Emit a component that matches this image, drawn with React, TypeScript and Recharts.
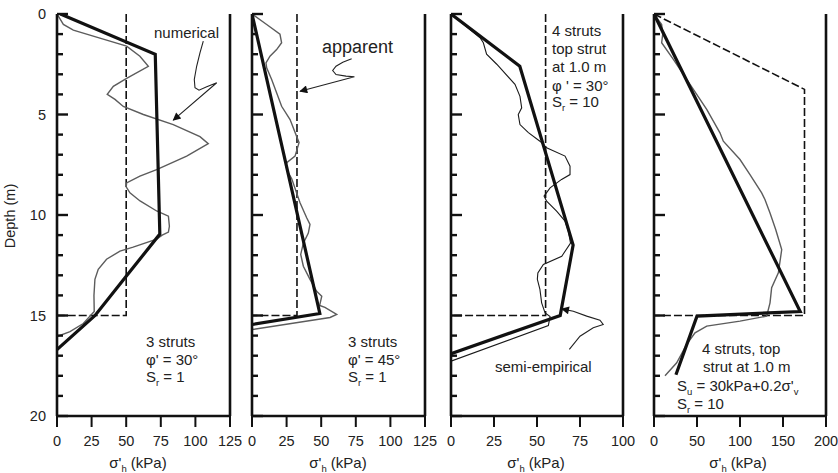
import React from 'react';
import { LineChart, Line, XAxis, YAxis } from 'recharts';

type Pt = { x: number; d: number };

const FONT = '"Liberation Sans", Arial, Helvetica, sans-serif';

// ---------- tick labels ----------
const depthTicks = [0, 1, 2, 3, 4, 5, 6, 7, 8, 9, 10, 11, 12, 13, 14, 15, 16, 17, 18, 19, 20];
const xTicks125 = [0, 25, 50, 75, 100, 125];
const xTicks100 = [0, 25, 50, 75, 100];
const xTicks200 = [0, 50, 100, 150, 200];

// ---------- panel 1: 3 struts, phi' = 30, Sr = 1 ----------
const p1Apparent: Pt[] = [{ x: 50, d: 0 }, { x: 50, d: 15 }, { x: 0, d: 15 }];
const p1Semi: Pt[] = [
  { x: 2.5, d: 0 }, { x: 71, d: 2 }, { x: 74.3, d: 10.95 }, { x: 50, d: 13.05 }, { x: 27.5, d: 15 }, { x: 0, d: 16.7 },
];
const p1Num: Pt[] = [
  { x: 0, d: 0 }, { x: 4.6, d: 0.52 }, { x: 11.8, d: 0.8 }, { x: 31, d: 1.2 }, { x: 50.3, d: 1.6 },
  { x: 59.9, d: 2.1 }, { x: 66, d: 2.6 }, { x: 50.3, d: 3.2 }, { x: 40.7, d: 3.6 }, { x: 36.3, d: 4.0 },
  { x: 41.9, d: 4.25 }, { x: 47.9, d: 4.6 }, { x: 62.4, d: 5.0 }, { x: 84, d: 5.5 }, { x: 103.3, d: 6.1 },
  { x: 109.3, d: 6.45 }, { x: 93.7, d: 7.07 }, { x: 72, d: 7.74 }, { x: 59.9, d: 8.07 }, { x: 50.3, d: 8.4 },
  { x: 50, d: 8.6 }, { x: 52.7, d: 8.9 }, { x: 60, d: 9.3 }, { x: 72, d: 9.8 }, { x: 80.5, d: 10.06 },
  { x: 81.2, d: 10.56 }, { x: 80.5, d: 10.85 }, { x: 76, d: 11.0 }, { x: 72, d: 11.2 }, { x: 55, d: 11.6 },
  { x: 45.5, d: 11.8 }, { x: 35.8, d: 12.2 }, { x: 29.8, d: 12.7 }, { x: 27.4, d: 13.2 }, { x: 26.7, d: 14.0 },
  { x: 26.9, d: 14.8 }, { x: 19, d: 15.4 }, { x: 9.4, d: 15.8 }, { x: 0, d: 16.05 },
];
const p1Arrow: Pt[] = [
  { x: 105.7, d: 1.35 }, { x: 103.3, d: 1.93 }, { x: 100.9, d: 2.6 }, { x: 99.2, d: 3.26 }, { x: 99.7, d: 3.67 },
  { x: 102.6, d: 3.79 }, { x: 108.2, d: 3.62 }, { x: 115.4, d: 3.42 }, { x: 84, d: 5.28 },
];

// ---------- panel 2: 3 struts, phi' = 45, Sr = 1 ----------
const p2Apparent: Pt[] = [{ x: 32.5, d: 0 }, { x: 32.5, d: 15 }, { x: 0, d: 15 }];
const p2Semi: Pt[] = [{ x: 0, d: 0 }, { x: 49, d: 14.9 }, { x: 0, d: 15.45 }];
const p2Num: Pt[] = [
  { x: 0, d: 0 }, { x: 10.6, d: 0.52 }, { x: 20.2, d: 1.0 }, { x: 21.4, d: 1.43 }, { x: 17.8, d: 1.77 },
  { x: 13, d: 2.1 }, { x: 10.1, d: 2.43 }, { x: 10.6, d: 2.68 }, { x: 14.2, d: 3.26 }, { x: 21.4, d: 4.59 },
  { x: 27.5, d: 5.25 }, { x: 34, d: 6.4 }, { x: 31.1, d: 7.07 }, { x: 25.1, d: 7.4 }, { x: 24.6, d: 7.57 },
  { x: 25.5, d: 7.8 }, { x: 28.7, d: 8.2 }, { x: 34.7, d: 9.39 }, { x: 39.5, d: 10.14 }, { x: 41.9, d: 10.47 },
  { x: 40.7, d: 10.9 }, { x: 37.1, d: 11.4 }, { x: 35.2, d: 11.96 }, { x: 37.1, d: 12.55 }, { x: 41.9, d: 13.2 },
  { x: 46.7, d: 13.8 }, { x: 50.4, d: 14.04 }, { x: 48.9, d: 14.5 }, { x: 52.7, d: 14.6 }, { x: 61.2, d: 14.95 },
  { x: 56.4, d: 15.1 }, { x: 0, d: 15.7 },
];
const p2Arrow: Pt[] = [
  { x: 72, d: 2.23 }, { x: 65.6, d: 2.4 }, { x: 60.7, d: 2.6 }, { x: 58.3, d: 2.81 }, { x: 60.7, d: 3.01 },
  { x: 67.9, d: 3.09 }, { x: 74, d: 3.12 }, { x: 34.7, d: 3.84 },
];

// ---------- panel 3: 4 struts, phi' = 30, Sr = 10 ----------
const p3Apparent: Pt[] = [{ x: 55, d: 0 }, { x: 55, d: 15 }, { x: 0, d: 15 }];
const p3Semi: Pt[] = [{ x: 0, d: 0 }, { x: 40, d: 2.6 }, { x: 71, d: 11.5 }, { x: 63.5, d: 15 }, { x: 0, d: 16.9 }];
const p3Num: Pt[] = [
  { x: 0, d: 0 }, { x: 16.9, d: 1.18 }, { x: 18.8, d: 1.43 }, { x: 20.7, d: 2.0 }, { x: 26.6, d: 2.5 },
  { x: 37.2, d: 3.5 }, { x: 40.1, d: 4.1 }, { x: 41.1, d: 4.67 }, { x: 39.1, d: 5.0 }, { x: 40.1, d: 5.5 },
  { x: 45, d: 5.9 }, { x: 51.7, d: 6.33 }, { x: 55.6, d: 6.66 }, { x: 66.3, d: 7.07 }, { x: 69.2, d: 7.57 },
  { x: 69.2, d: 7.99 }, { x: 64.3, d: 8.23 }, { x: 57.6, d: 8.65 }, { x: 54.1, d: 9.06 }, { x: 55.6, d: 9.31 },
  { x: 61.4, d: 9.81 }, { x: 66.3, d: 10.3 }, { x: 68.2, d: 10.8 }, { x: 69.5, d: 11.4 }, { x: 64.4, d: 12.05 },
  { x: 53.7, d: 12.46 }, { x: 50.5, d: 12.88 }, { x: 50.2, d: 13.2 }, { x: 51.7, d: 13.7 }, { x: 52.7, d: 14.37 },
  { x: 54.7, d: 14.87 }, { x: 57.6, d: 15.05 }, { x: 56.6, d: 15.5 }, { x: 0, d: 17.27 },
];
const p3Arrow: Pt[] = [
  { x: 68.8, d: 16.69 }, { x: 75, d: 16.03 }, { x: 82.7, d: 15.61 }, { x: 88.5, d: 15.45 }, { x: 86.6, d: 15.23 },
  { x: 78.9, d: 15.03 }, { x: 71.1, d: 14.79 }, { x: 64.4, d: 14.67 },
];

// ---------- panel 4: 4 struts, Su = 30kPa + 0.2 sigma'v, Sr = 10 ----------
const p4Apparent: Pt[] = [{ x: 0, d: 0 }, { x: 175, d: 3.75 }, { x: 175, d: 15 }, { x: 0, d: 15 }];
const p4Semi: Pt[] = [{ x: 0, d: 0 }, { x: 170, d: 14.8 }, { x: 50, d: 15.03 }, { x: 25.5, d: 17.95 }];
const p4Num: Pt[] = [
  { x: 0, d: 0 }, { x: 8.9, d: 0.52 }, { x: 10.1, d: 1.02 }, { x: 8.9, d: 1.43 }, { x: 22.5, d: 2.26 },
  { x: 41.9, d: 3.5 }, { x: 61.3, d: 4.75 }, { x: 76.7, d: 5.91 }, { x: 80.6, d: 6.33 }, { x: 100, d: 7.24 },
  { x: 111.6, d: 7.99 }, { x: 125.2, d: 8.9 }, { x: 129, d: 9.23 }, { x: 134.9, d: 9.9 }, { x: 141.5, d: 10.72 },
  { x: 148.5, d: 11.72 }, { x: 144.6, d: 12.88 }, { x: 136.8, d: 13.62 }, { x: 134.9, d: 14.37 }, { x: 131, d: 15.03 },
  { x: 100, d: 15.28 }, { x: 61.3, d: 15.53 }, { x: 47.7, d: 15.86 }, { x: 38, d: 16.44 }, { x: 26.4, d: 17.35 },
  { x: 12.8, d: 18.0 },
];

type Series = { data: Pt[]; kind: 'apparent' | 'semi' | 'num' | 'numDark' | 'arrow' };

const STYLE: Record<Series['kind'], any> = {
  apparent: { stroke: '#111', strokeWidth: 1.6, strokeDasharray: '8 3' },
  semi: { stroke: '#111', strokeWidth: 3.2 },
  num: { stroke: '#5c5c5c', strokeWidth: 1.4 },
  numDark: { stroke: '#1a1a1a', strokeWidth: 1.1 },
  arrow: { stroke: '#222', strokeWidth: 1.1, markerEnd: 'url(#arrowHead)' },
};

const TICK_MARGIN = 10;

const LeftTick = (props: any) => {
  const { x, y, payload, showLabel } = props;
  const edge = x + TICK_MARGIN;
  const major = payload.value % 5 === 0;
  const len = major ? 11 : 6;
  return (
    <g>
      <line x1={edge} x2={edge + len} y1={y} y2={y} stroke="#111" strokeWidth={2.4} />
      {showLabel && major ? (
        <text x={x - 1} y={y} dy={5} textAnchor="end" fontSize={14.5} fill="#222" fontFamily={FONT}>
          {payload.value}
        </text>
      ) : null}
    </g>
  );
};

const RightTick = (props: any) => {
  const { x, y, payload } = props;
  const edge = x - TICK_MARGIN;
  const major = payload.value % 5 === 0;
  const len = major ? 11 : 6;
  return <line x1={edge} x2={edge - len} y1={y} y2={y} stroke="#111" strokeWidth={2.4} />;
};

type PanelProps = {
  plotLeft: number;
  plotWidth: number;
  xMax: number;
  xTicks: number[];
  yLabels?: boolean;
  series: Series[];
};

const CHART_H = 473;
const TOP = 14;
const XAXIS_H = 57;

function Panel({ plotLeft, plotWidth, xMax, xTicks, yLabels, series }: PanelProps) {
  const yw = yLabels ? plotLeft : 12;
  const rw = 16;
  const width = yw + plotWidth + rw;
  const axisLine = { stroke: '#111', strokeWidth: 2.6 };
  return (
    <div style={{ position: 'absolute', left: plotLeft - yw, top: 0 }}>
      <LineChart width={width} height={CHART_H} layout="vertical" margin={{ top: TOP, right: 0, bottom: 0, left: 0 }}>
        <XAxis
          type="number"
          dataKey="x"
          domain={[0, xMax]}
          ticks={xTicks}
          interval={0}
          allowDataOverflow
          height={XAXIS_H}
          axisLine={axisLine}
          tickLine={{ stroke: '#111', strokeWidth: 2 }}
          tickSize={11}
          tickMargin={9}
          tick={{ fill: '#222', fontSize: 14.5, fontFamily: FONT }}
        />
        <XAxis
          xAxisId="top"
          orientation="top"
          type="number"
          domain={[0, xMax]}
          allowDataOverflow
          height={0}
          tick={false}
          tickLine={false}
          axisLine={axisLine}
        />
        <YAxis
          type="number"
          dataKey="d"
          domain={[0, 20]}
          allowDataOverflow
          ticks={depthTicks}
          interval={0}
          width={yw}
          tickSize={0}
          tickMargin={TICK_MARGIN}
          tickLine={false}
          axisLine={axisLine}
          tick={<LeftTick showLabel={!!yLabels} />}
        />
        <YAxis
          yAxisId="r"
          orientation="right"
          type="number"
          domain={[0, 20]}
          allowDataOverflow
          ticks={depthTicks}
          interval={0}
          width={rw}
          tickSize={0}
          tickMargin={TICK_MARGIN}
          tickLine={false}
          axisLine={axisLine}
          tick={<RightTick />}
        />
        {series.map((s, i) => (
          <Line
            key={i}
            data={s.data}
            dataKey="x"
            type="linear"
            dot={false}
            activeDot={false}
            isAnimationActive={false}
            {...STYLE[s.kind]}
          />
        ))}
      </LineChart>
    </div>
  );
}

const txt = { fontFamily: FONT, fill: '#222', fontSize: 15 } as const;

function XTitle({ cx }: { cx: number }) {
  return (
    <text x={cx} y={468} textAnchor="middle" {...txt}>
      <tspan>σ'</tspan>
      <tspan fontSize={9.5} dy={4}>h</tspan>
      <tspan dy={-4}> (kPa)</tspan>
    </text>
  );
}

export default function App() {
  return (
    <div style={{ position: 'absolute', left: 0, top: 0, width: 838, height: 473, background: '#fff' }}>
      <svg width={0} height={0} style={{ position: 'absolute' }}>
        <defs>
          <marker id="arrowHead" viewBox="0 0 10 10" refX={9} refY={5} markerWidth={11} markerHeight={8} markerUnits="userSpaceOnUse" orient="auto">
            <path d="M0,0 L10,5 L0,10 z" fill="#111" />
          </marker>
        </defs>
      </svg>
      <Panel
        plotLeft={57}
        plotWidth={173}
        xMax={125}
        xTicks={xTicks125}
        yLabels
        series={[
          { data: p1Apparent, kind: 'apparent' },
          { data: p1Num, kind: 'num' },
          { data: p1Semi, kind: 'semi' },
          { data: p1Arrow, kind: 'arrow' },
        ]}
      />
      <Panel
        plotLeft={252}
        plotWidth={173}
        xMax={125}
        xTicks={xTicks125}
        series={[
          { data: p2Apparent, kind: 'apparent' },
          { data: p2Num, kind: 'num' },
          { data: p2Semi, kind: 'semi' },
          { data: p2Arrow, kind: 'arrow' },
        ]}
      />
      <Panel
        plotLeft={451}
        plotWidth={172}
        xMax={100}
        xTicks={xTicks100}
        series={[
          { data: p3Apparent, kind: 'apparent' },
          { data: p3Num, kind: 'numDark' },
          { data: p3Semi, kind: 'semi' },
          { data: p3Arrow, kind: 'arrow' },
        ]}
      />
      <Panel
        plotLeft={654}
        plotWidth={172}
        xMax={200}
        xTicks={xTicks200}
        series={[
          { data: p4Apparent, kind: 'apparent' },
          { data: p4Num, kind: 'num' },
          { data: p4Semi, kind: 'semi' },
        ]}
      />
      <svg width={838} height={473} style={{ position: 'absolute', left: 0, top: 0, pointerEvents: 'none' }}>
        <text transform="translate(15,216) rotate(-90)" textAnchor="middle" {...txt} fontSize={14.5}>Depth (m)</text>
        <XTitle cx={138} />
        <XTitle cx={338} />
        <XTitle cx={536} />
        <XTitle cx={738} />

        <text x={154} y={38} {...txt}>numerical</text>
        <text x={146} y={347} {...txt}>3 struts</text>
        <text x={146} y={364.5} {...txt}>φ' = 30°</text>
        <text x={146} y={382} {...txt}>S<tspan fontSize={9.5} dy={4}>r</tspan><tspan dy={-4}> = 1</tspan></text>

        <text x={322} y={53} {...txt} fontSize={18}>apparent</text>
        <text x={348} y={347} {...txt}>3 struts</text>
        <text x={348} y={364.5} {...txt}>φ' = 45°</text>
        <text x={348} y={382} {...txt}>S<tspan fontSize={9.5} dy={4}>r</tspan><tspan dy={-4}> = 1</tspan></text>

        <text x={552} y={35.5} {...txt}>4 struts</text>
        <text x={552} y={54} {...txt}>top strut</text>
        <text x={552} y={72} {...txt}>at 1.0 m</text>
        <text x={552} y={90.5} {...txt}>φ ' = 30°</text>
        <text x={552} y={107} {...txt}>S<tspan fontSize={9.5} dy={4}>r</tspan><tspan dy={-4}> = 10</tspan></text>
        <text x={495} y={372} {...txt}>semi-empirical</text>

        <text x={702} y={354} {...txt}>4 struts, top</text>
        <text x={703} y={372} {...txt}>strut at 1.0 m</text>
        <text x={677} y={390.5} {...txt}>S<tspan fontSize={9.5} dy={4}>u</tspan><tspan dy={-4}> = 30kPa+0.2σ'</tspan><tspan fontSize={9.5} dy={4}>v</tspan></text>
        <text x={677} y={409} {...txt}>S<tspan fontSize={9.5} dy={4}>r</tspan><tspan dy={-4}> = 10</tspan></text>
      </svg>
    </div>
  );
}
